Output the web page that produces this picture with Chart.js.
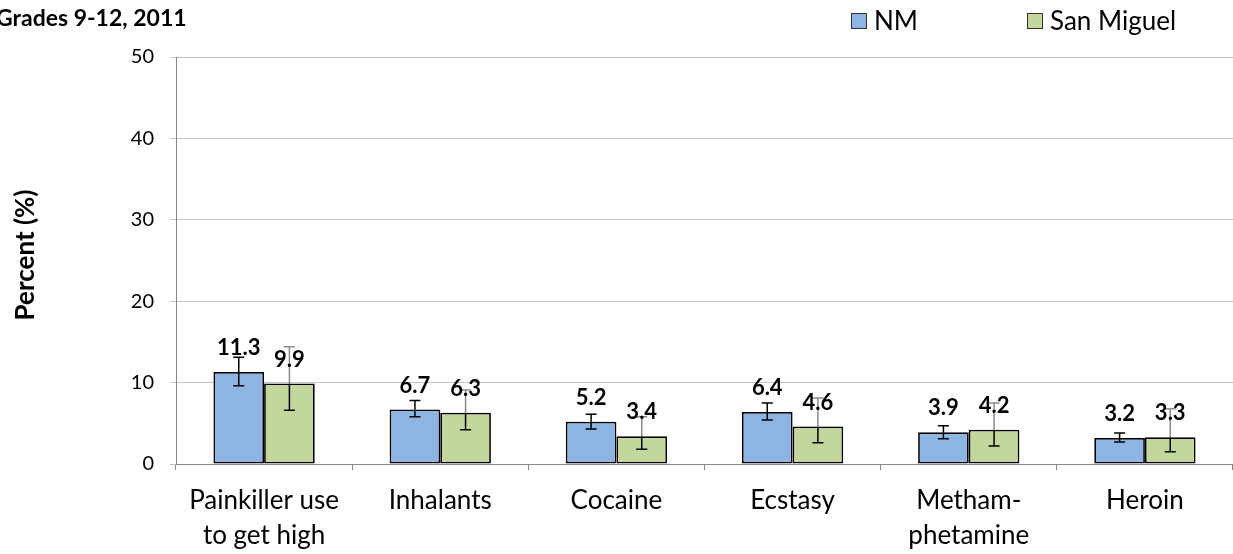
<!DOCTYPE html>
<html>
<head>
<meta charset="utf-8">
<script src="https://cdn.jsdelivr.net/npm/chart.js@4"></script>
<style>
  body { margin: 0; background: #fff; }
  #wrap { width: 1233px; height: 554px; position: relative; }
</style>
</head>
<body>
<div id="wrap"><canvas id="canvas"></canvas></div>
<script>
// data
const categories = [["Painkiller use", "to get high"], "Inhalants", "Cocaine", "Ecstasy", ["Metham-", "phetamine"], "Heroin"];
const nmValues = [11.3, 6.7, 5.2, 6.4, 3.9, 3.2];
const smValues = [9.9, 6.3, 3.4, 4.6, 4.2, 3.3];
const nmLow = [9.6, 5.8, 4.3, 5.4, 3.1, 2.7];
const nmHigh = [13.1, 7.8, 6.1, 7.5, 4.7, 3.8];
const smLow = [6.6, 4.2, 1.8, 2.6, 2.2, 1.5];
const smHigh = [14.4, 9.1, 5.8, 8.1, 7.5, 6.8];
const yTicks = [0, 10, 20, 30, 40, 50];

const blue = "#8EB4E3";
const green = "#C3D69B";

Chart.defaults.font.family = "Lato";
Chart.defaults.color = "#000";

// error bars, data labels, title and legend
const extras = {
  id: "extras",
  afterDatasetsDraw(chart) {
    const {ctx} = chart;
    const y = chart.scales.y;
    const ranges = [[nmLow, nmHigh], [smLow, smHigh]];
    ctx.save();
    chart.data.datasets.forEach((ds, i) => {
      const meta = chart.getDatasetMeta(i);
      meta.data.forEach((bar, j) => {
        const top = y.getPixelForValue(ranges[i][1][j]);
        const bot = y.getPixelForValue(ranges[i][0][j]);
        ctx.lineWidth = 1.5;
        // lower part + bottom cap
        ctx.strokeStyle = "#000";
        ctx.beginPath();
        ctx.moveTo(bar.x, bar.y);
        ctx.lineTo(bar.x, bot);
        ctx.moveTo(bar.x - 5.5, bot);
        ctx.lineTo(bar.x + 5.5, bot);
        ctx.stroke();
        // upper part (greyed where the label sits over it)
        ctx.strokeStyle = i == 1 ? "#8c8c8c" : "#000";
        ctx.beginPath();
        ctx.moveTo(bar.x, bar.y);
        ctx.lineTo(bar.x, top);
        ctx.moveTo(bar.x - 5.5, top);
        ctx.lineTo(bar.x + 5.5, top);
        ctx.stroke();
      });
    });
    // value labels
    ctx.fillStyle = "#000";
    ctx.font = "bold 22px Lato";
    ctx.textAlign = "center";
    ctx.textBaseline = "middle";
    chart.data.datasets.forEach((ds, i) => {
      chart.getDatasetMeta(i).data.forEach((bar, j) => {
        ctx.fillText(ds.data[j].toFixed(1), bar.x, bar.y - 24);
      });
    });
    ctx.restore();
  },
  afterDraw(chart) {
    const {ctx} = chart;
    ctx.save();
    ctx.fillStyle = "#000";
    ctx.font = "bold 23px Lato";
    ctx.textAlign = "left";
    ctx.textBaseline = "alphabetic";
    ctx.fillText("Grades 9-12, 2011", -4, 26);

    // y axis title
    ctx.save();
    ctx.translate(26, 255);
    ctx.rotate(-Math.PI / 2);
    ctx.textAlign = "center";
    ctx.textBaseline = "middle";
    ctx.font = "bold 26px Lato";
    ctx.fillText("Percent (%)", 0, 0);
    ctx.restore();

    // legend
    const items = [["NM", blue, 851], ["San Miguel", green, 1027]];
    ctx.font = "26px Lato";
    ctx.textBaseline = "middle";
    items.forEach(([label, col, x]) => {
      ctx.fillStyle = col;
      ctx.fillRect(x, 13, 16, 16);
      ctx.strokeStyle = "#333";
      ctx.lineWidth = 1;
      ctx.strokeRect(x + 0.5, 13.5, 15, 15);
      ctx.fillStyle = "#000";
      ctx.fillText(label, x + 23, 22);
    });
    ctx.restore();
  }
};

chart = new Chart(document.getElementById("canvas").getContext("2d"), {
  type: "bar",
  data: {
    labels: categories,
    datasets: [
      {
        label: "NM",
        data: nmValues,
        backgroundColor: blue,
        borderColor: "#000",
        borderWidth: 1.75,
        borderSkipped: false,
        barPercentage: 1,
        categoryPercentage: 0.575
      },
      {
        label: "San Miguel",
        data: smValues,
        backgroundColor: green,
        borderColor: "#000",
        borderWidth: 1.75,
        borderSkipped: false,
        barPercentage: 1,
        categoryPercentage: 0.575
      }
    ]
  },
  options: {
    responsive: true,
    maintainAspectRatio: false,
    animation: false,
    layout: {
      padding: { top: 57, right: 0, left: 0, bottom: 0 }
    },
    plugins: {
      legend: { display: false },
      tooltip: { enabled: false }
    },
    scales: {
      x: {
        offset: true,
        grid: {
          offset: true,
          drawOnChartArea: false,
          drawTicks: true,
          tickLength: 6,
          color: "#868686"
        },
        border: { color: "#868686", width: 1 },
        ticks: {
          font: { size: 26, lineHeight: 1.35 },
          padding: 13,
          maxRotation: 0,
          autoSkip: false
        },
        afterFit(scale) { scale.height = 90; }
      },
      y: {
        min: 0,
        max: 50,
        afterBuildTicks(scale) { scale.ticks = yTicks.map((v) => ({value: v})); },
        grid: {
          color: "#c4c4c4",
          tickLength: 6
        },
        border: { color: "#868686", width: 1 },
        ticks: {
          font: { size: 20 },
          padding: 16
        },
        afterFit(scale) { scale.width = 176; }
      }
    }
  },
  plugins: [extras]
});
</script>
</body>
</html>
